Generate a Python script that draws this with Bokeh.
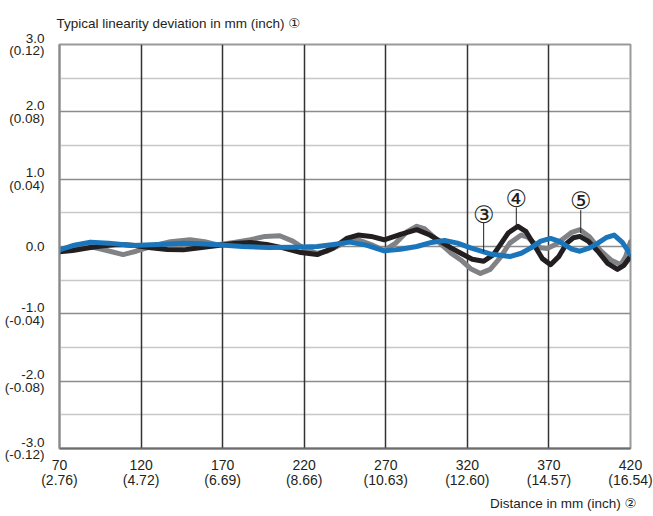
from bokeh.plotting import figure
from bokeh.models import FixedTicker, Grid, Range1d, Title
from bokeh.core.properties import value
from bokeh.embed import file_html
from bokeh.resources import INLINE

# ---- data ----
X_TICKS = [70, 120, 170, 220, 270, 320, 370, 420]
X_TICK_LABELS = ["70\n(2.76)", "120\n(4.72)", "170\n(6.69)", "220\n(8.66)",
                 "270\n(10.63)", "320\n(12.60)", "370\n(14.57)", "420\n(16.54)"]
Y_TICKS = [-3, -2, -1, 0, 1, 2, 3]
Y_TICK_LABELS = ["-3.0\n(-0.12)", "-2.0\n(-0.08)", "-1.0\n(-0.04)", "0.0",
                 "1.0\n(0.04)", "2.0\n(0.08)", "3.0\n(0.12)"]
Y_MINOR = [-2.5, -1.5, -0.5, 0.5, 1.5, 2.5]

x_black = [70, 78, 88, 97, 106, 115, 126, 136, 146, 156, 167, 177, 187, 197, 207, 218,
           228, 238, 246, 253, 261, 269, 279, 289, 297, 304, 310, 316, 323, 330, 336,
           340, 345, 351, 356, 361, 366, 371, 376, 381, 385, 389, 394, 400, 406, 412,
           416, 420]
y_black = [-0.08, -0.06, -0.02, 0.01, 0.03, 0.02, -0.02, -0.045, -0.05, -0.02, 0.015,
           0.045, 0.06, 0.03, -0.02, -0.09, -0.12, -0.02, 0.12, 0.17, 0.15, 0.1, 0.18,
           0.25, 0.17, 0.07, -0.02, -0.1, -0.19, -0.22, -0.12, 0.02, 0.2, 0.3, 0.22,
           0.02, -0.18, -0.27, -0.15, 0.05, 0.13, 0.15, 0.08, -0.07, -0.25, -0.34,
           -0.28, -0.15]

x_gray = [70, 80, 89, 99, 109, 117, 126, 138, 150, 159, 167, 177, 187, 196, 205, 213,
          220, 228, 234, 240, 246, 253, 261, 269, 276, 283, 289, 294, 299, 304, 310,
          316, 322, 328, 334, 340, 346, 353, 357, 361, 365, 369, 374, 379, 384, 389,
          395, 402, 408, 414, 417, 420]
y_gray = [-0.07, -0.03, 0.0, -0.06, -0.12, -0.07, 0.0, 0.07, 0.1, 0.07, 0.025, 0.06,
          0.1, 0.15, 0.16, 0.08, -0.03, -0.1, -0.07, 0.0, 0.07, 0.1, 0.03, -0.06, 0.05,
          0.22, 0.3, 0.26, 0.15, 0.03, -0.1, -0.2, -0.33, -0.4, -0.34, -0.17, 0.05, 0.17,
          0.14, 0.05, -0.02, -0.03, 0.03, 0.12, 0.21, 0.25, 0.14, -0.07, -0.2, -0.27,
          -0.15, 0.07]

x_blue = [70, 79, 89, 100, 115, 130, 146, 156, 167, 182, 198, 213, 228, 238, 248, 258,
          269, 279, 289, 298, 306, 314, 322, 334, 346, 353, 359, 365, 371, 376, 380,
          384, 389, 395, 400, 405, 410, 415, 420]
y_blue = [-0.05, 0.02, 0.065, 0.05, 0.015, 0.03, 0.05, 0.04, 0.025, 0.0, -0.015, -0.01,
          0.0, 0.03, 0.065, 0.02, -0.065, -0.04, 0.0, 0.06, 0.09, 0.05, -0.02, -0.11,
          -0.15, -0.1, -0.02, 0.08, 0.12, 0.08, 0.02, -0.04, -0.07, -0.02, 0.05, 0.13,
          0.17, 0.06, -0.12]

callout_text = ["\u2462", "\u2463", "\u2464"]
callout_x = [330, 350, 389.5]
callout_y = [0.47, 0.71, 0.67]
callout_top = [0.35, 0.58, 0.54]
callout_bottom = [-0.08, 0.28, 0.2]

y_title = "Typical linearity deviation in mm (inch) \u2460"
x_title = "Distance in mm (inch) \u2461"

FONT = "Liberation Sans"
TITLE_FONT = "Liberation Sans, DejaVu Sans"
W, H = 653, 516

p = figure(width=W, height=H, x_range=Range1d(70, 420), y_range=Range1d(-3, 3),
           output_backend="svg", toolbar_location=None,
           min_border_left=59, min_border_right=23, min_border_top=43, min_border_bottom=68)
p.background_fill_color = "white"
p.border_fill_color = "white"
p.outline_line_color = "#9a9a9a"
p.outline_line_width = 2

# axes
p.xaxis.ticker = FixedTicker(ticks=X_TICKS)
p.xaxis.major_label_overrides = {t: l for t, l in zip(X_TICKS, X_TICK_LABELS)}
p.yaxis.ticker = FixedTicker(ticks=Y_TICKS, minor_ticks=Y_MINOR)
p.yaxis.major_label_overrides = {t: l for t, l in zip(Y_TICKS, Y_TICK_LABELS)}
for ax in (p.xaxis, p.yaxis):
    ax.major_tick_line_color = None
    ax.minor_tick_line_color = None
    ax.major_tick_out = 0
    ax.minor_tick_out = 0
    ax.major_label_text_font = FONT
    ax.major_label_text_color = "#231f20"
p.xaxis.major_label_text_font_size = "14px"
p.yaxis.major_label_text_font_size = "13.5px"
p.xaxis.major_label_text_line_height = 0.95
p.yaxis.major_label_text_line_height = 0.85
p.xaxis.major_label_standoff = 8
p.yaxis.major_label_standoff = 15
p.xaxis.axis_line_color = "#6d6d6d"
p.xaxis.axis_line_width = 2
p.yaxis.axis_line_color = "#8a8a8a"
p.yaxis.axis_line_width = 2

# grids
p.xgrid.visible = False
p.ygrid.grid_line_color = "#8c8c8c"
p.ygrid.grid_line_width = 1.5
p.ygrid.minor_grid_line_color = "#c8c8c8"
p.ygrid.minor_grid_line_width = 1.5
vgrid = Grid(dimension=0, ticker=FixedTicker(ticks=X_TICKS[1:-1]),
             grid_line_color="#333333", grid_line_width=1.5)
p.add_layout(vgrid)

# series
p.line(x_gray, y_gray, line_color="#808285", line_width=5, line_join="round", line_cap="round")
p.line(x_black, y_black, line_color="#231f20", line_width=5, line_join="round", line_cap="round")
p.line(x_blue, y_blue, line_color="#1b75bb", line_width=5, line_join="round", line_cap="round")

# callouts
p.segment(x0=callout_x, y0=callout_top, x1=callout_x, y1=callout_bottom,
          line_color="#231f20", line_width=1)
p.text(x=callout_x, y=callout_y, text=callout_text, text_font=value("DejaVu Sans"),
       text_font_size="24px", text_align="center", text_baseline="middle",
       text_color="#231f20")

# axis titles
p.add_layout(Title(text=y_title, align="left", offset=-3, standoff=27,
                   text_font=TITLE_FONT, text_font_size="13.5px",
                   text_font_style="normal", text_color="#231f20"), "above")
p.add_layout(Title(text=x_title, align="right", offset=-6, standoff=6,
                   text_font=TITLE_FONT, text_font_size="13.5px",
                   text_font_style="normal", text_color="#231f20"), "below")

open("out.html", "w").write(file_html(p, INLINE))
